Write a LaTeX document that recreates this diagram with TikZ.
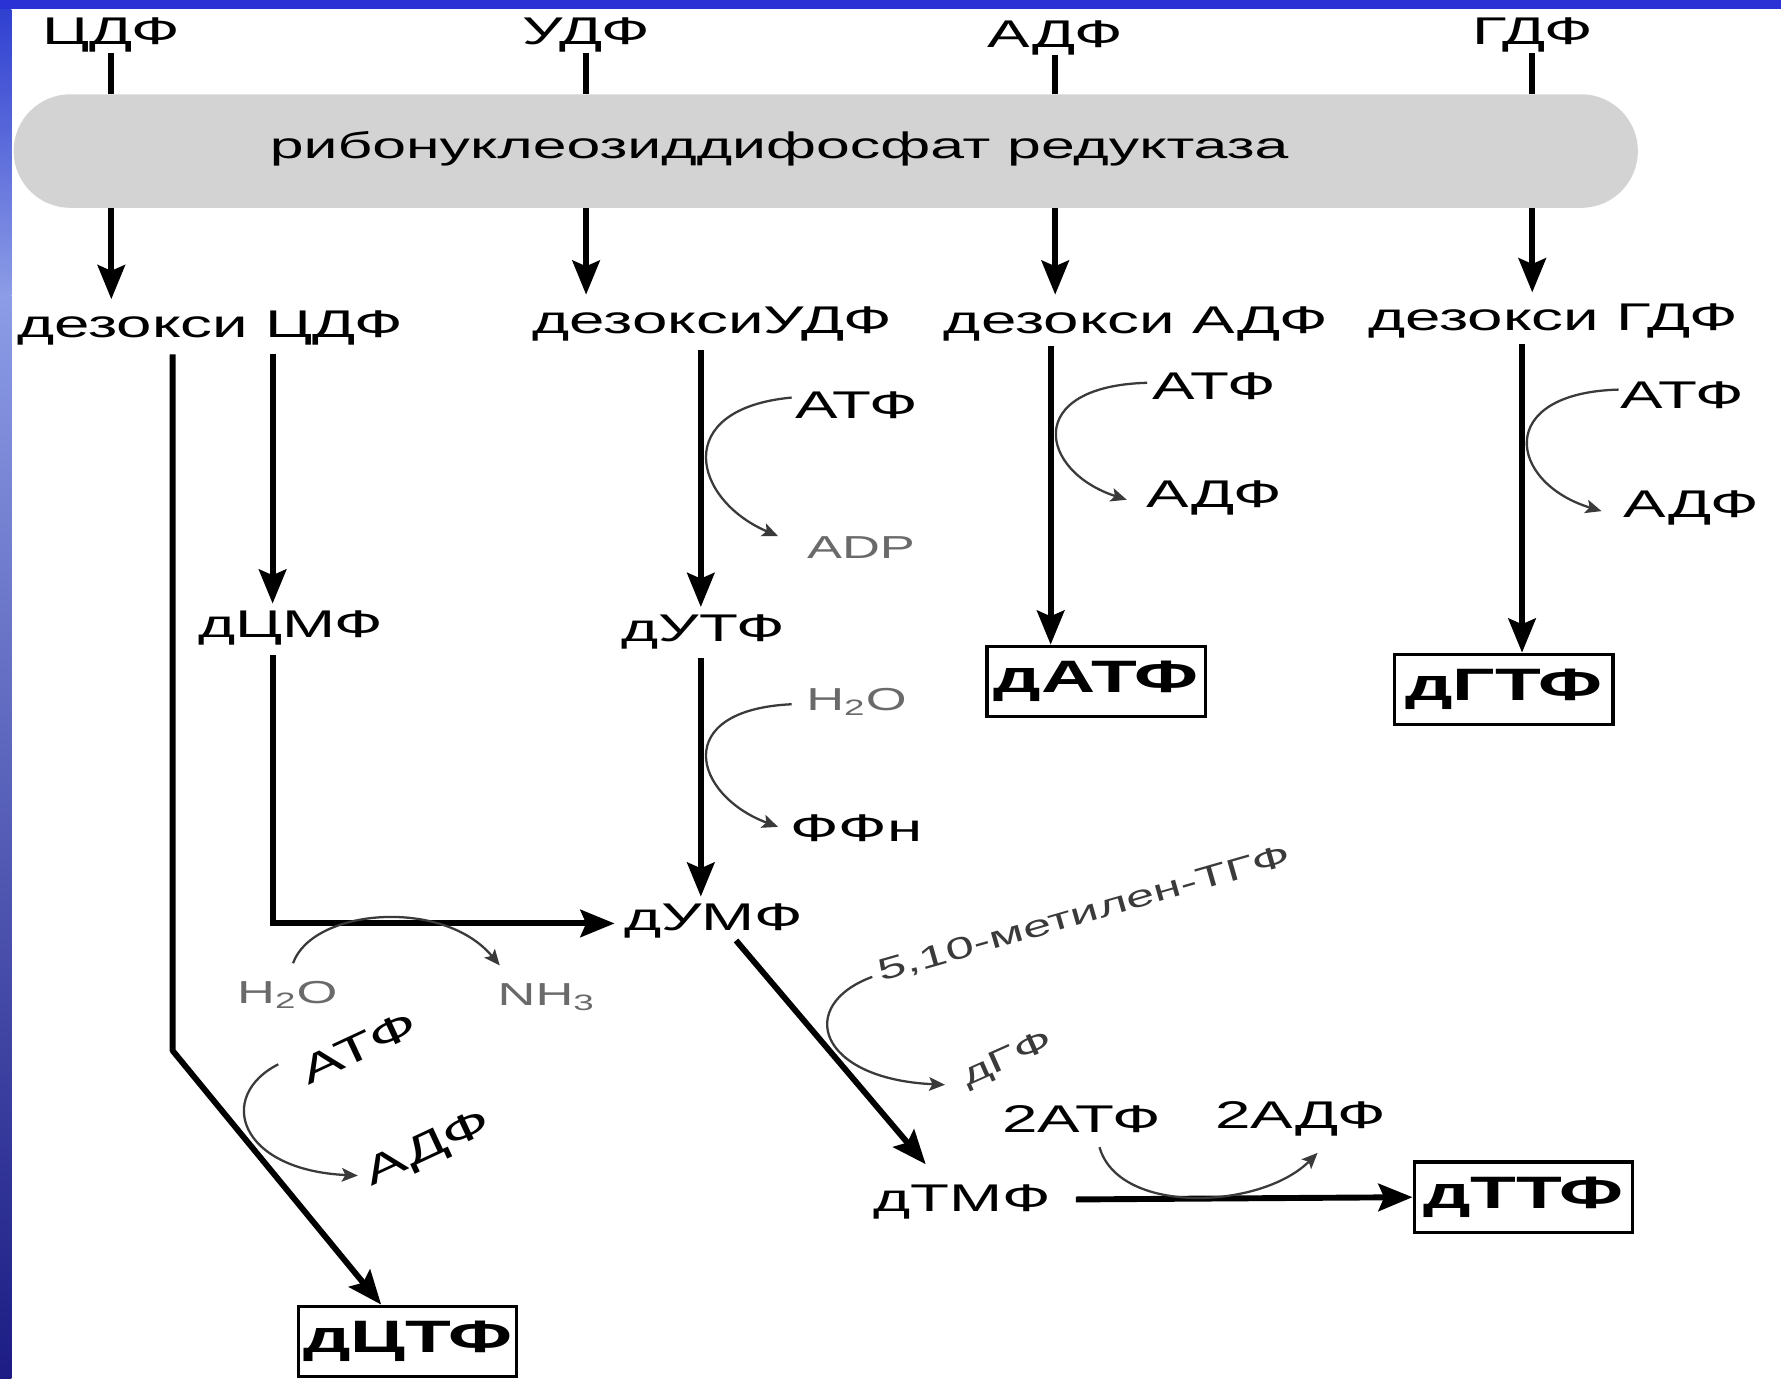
\documentclass[tikz,border=0pt]{standalone}
\usepackage{fontspec}
\setmainfont{Liberation Sans}[FakeStretch=1.65]
\usetikzlibrary{arrows.meta,calc}
\definecolor{topblue}{HTML}{2A32D6}
\definecolor{stripA}{HTML}{3040D0}
\definecolor{stripB}{HTML}{8C9CE6}
\definecolor{stripC}{HTML}{1C1C84}
\definecolor{bargray}{HTML}{D3D3D3}
\definecolor{lightlbl}{HTML}{6A6A6A}
\definecolor{darklbl}{HTML}{3A3A3A}
\begin{document}
\begin{tikzpicture}[x=0.5pt,y=-0.5pt,
  txt/.style={inner sep=0pt, font=\fontsize{17}{20}\selectfont},
  small/.style={inner sep=0pt, font=\fontsize{14}{16}\selectfont, text=lightlbl},
  mid/.style={inner sep=0pt, font=\fontsize{13.5}{16}\selectfont, text=darklbl},
  boxed/.style={draw, line width=1.4pt, inner sep=0pt, minimum width=96pt, minimum height=31pt, font=\fontsize{20}{24}\selectfont\bfseries},
  main/.style={line width=2.6pt},
  mainarrow/.style={main, -{Stealth[length=15pt,width=12pt,inset=2.5pt]}},
  side/.style={line width=1pt, draw=darklbl, -{Stealth[length=7pt,width=6pt,inset=1.5pt]}},
]
\useasboundingbox (0,0) rectangle (1568,1214);
% background
\fill[white] (0,0) rectangle (1568,1214);
\node[fill=bargray, rounded corners=25pt, minimum width=715pt, minimum height=50pt, inner sep=0pt] (rnr) at (727,133) {};
\fill[topblue] (0,0) rectangle (1568,8);
\shade[top color=stripA, bottom color=stripB] (0,8) rectangle (10,260);
\shade[top color=stripB, bottom color=stripC] (0,260) rectangle (10,1214);

\node[txt, font=\fontsize{16.2}{20}\selectfont] (rnrtxt) at (686,131) {рибонуклеозиддифосфат редуктаза};

% substrates
\node[txt] (cdf) at (98,31) {ЦДФ};
\node[txt] (udf) at (516,31) {УДФ};
\node[txt] (adf) at (929,33) {АДФ};
\node[txt] (gdf) at (1349,31) {ГДФ};

% deoxy diphosphates
\node[txt] (dcdp) at (185,289) {дезокси ЦДФ};
\node[txt] (dudp) at (627,285) {дезоксиУДФ};
\node[txt] (dadp) at (1000,285) {дезокси АДФ};
\node[txt] (dgdp) at (1367,283) {дезокси ГДФ};

\node[txt] (dcmp) at (256,553) {дЦМФ};
\node[txt] (dutp) at (619,556) {дУТФ};
\node[txt] (dump) at (628,811) {дУМФ};
\node[txt] (dtmp) at (847,1058) {дТМФ};

\node[boxed] (datp) at (965,600) {дАТФ};
\node[boxed] (dgtp) at (1324,607) {дГТФ};
\node[boxed] (dttp) at (1341,1054) {дТТФ};
\node[boxed] (dctp) at (359,1181) {дЦТФ};

% side labels
\node[txt] (atp1) at (754,357) {АТФ};
\node[small] (adp1) at (758,482) {ADP};
\node[small] (h2o1) at (754,618) {H\textsubscript{2}O};
\node[txt] (ppi) at (754,729) {ФФн};
\node[small] (h2o2) at (253,876) {H\textsubscript{2}O};
\node[small] (nh3) at (481,878) {NH\textsubscript{3}};
\node[txt] (atp2) at (1069,340) {АТФ};
\node[txt] (adp2) at (1069,438) {АДФ};
\node[txt] (atp3) at (1481,348) {АТФ};
\node[txt] (adp3) at (1489,447) {АДФ};
\node[mid, rotate=16] (mthf) at (955,805) {5,10-метилен-ТГФ};
\node[mid, rotate=24] (dhf) at (887,933) {дГФ};
\node[txt] (atp4) at (952,985) {2АТФ};
\node[txt] (adp4) at (1145,985) {2АДФ};
\node[txt, rotate=25] (atp5) at (316,922) {АТФ};
\node[txt, rotate=25] (adp5) at (377,1012) {АДФ};

% helper coordinates
\coordinate (cl0) at (152,312);
\coordinate (cl1) at (152,925);
\coordinate (cr0) at (240,312);
\coordinate (cr1) at (240,813);
\coordinate (ux) at (617,0);
\coordinate (ax) at (925,0);
\coordinate (gx) at (1340,0);
\coordinate (um0) at (648,828);
\coordinate (tm0) at (815,1025);

% substrates into reductase
\draw[main] (cdf.south) -- (cdf.south |- rnr.north);
\draw[main] (udf.south) -- (udf.south |- rnr.north);
\draw[main] (adf.south) -- (adf.south |- rnr.north);
\draw[main] (gdf.south) -- (gdf.south |- rnr.north);
% reductase to products
\draw[mainarrow, shorten >=5pt] (rnr.south -| cdf) -- (dcdp.north -| cdf);
\draw[mainarrow, shorten >=5pt] (rnr.south -| udf) -- (dudp.north -| udf);
\draw[mainarrow, shorten >=5pt] (rnr.south -| adf) -- (dadp.north -| adf);
\draw[mainarrow, shorten >=5pt] (rnr.south -| gdf) -- (dgdp.north -| gdf);

% dCDP branches
\draw[mainarrow, line join=round] (cl0) -- (cl1) -- ($(dctp.north west)+(74,0)$);
\draw[mainarrow, shorten >=3pt] (cr0) -- (cr0 |- dcmp.north);
\draw[mainarrow, shorten <=4pt, shorten >=4pt] (dcmp.south -| cr0) -- (cr1) -- (cr1 -| dump.west);
% dUDP branch
\draw[mainarrow, shorten <=4pt, shorten >=3pt] (dudp.south -| ux) -- (dutp.north -| ux);
\draw[mainarrow, shorten <=4pt, shorten >=3pt] (dutp.south -| ux) -- (dump.north -| ux);
\draw[mainarrow] (um0) -- (tm0);
\draw[mainarrow] ($(dtmp.east)+(22,-2)$) -- (dttp.west);
% dADP, dGDP
\draw[mainarrow, shorten <=2pt] (dadp.south -| ax) -- (datp.north -| ax);
\draw[mainarrow, shorten <=2pt] (dgdp.south -| gx) -- (dgtp.north -| gx);

% side reactions
\draw[side] (697,350) .. controls (590,360) and (610,440) .. (685,472);
\draw[side] (697,620) .. controls (590,625) and (610,700) .. (685,728);
\draw[side] (1010,337) .. controls (900,340) and (915,415) .. (992,440);
\draw[side] (1425,343) .. controls (1315,346) and (1328,425) .. (1410,450);
\draw[side] (768,860) .. controls (700,885) and (720,950) .. (832,955);
\draw[side] (245,937) .. controls (190,965) and (210,1030) .. (315,1035);
\draw[side] (258,848) .. controls (275,800) and (390,790) .. (440,850);
\draw[side] (968,1010) .. controls (985,1070) and (1110,1065) .. (1160,1015);
\end{tikzpicture}
\end{document}
